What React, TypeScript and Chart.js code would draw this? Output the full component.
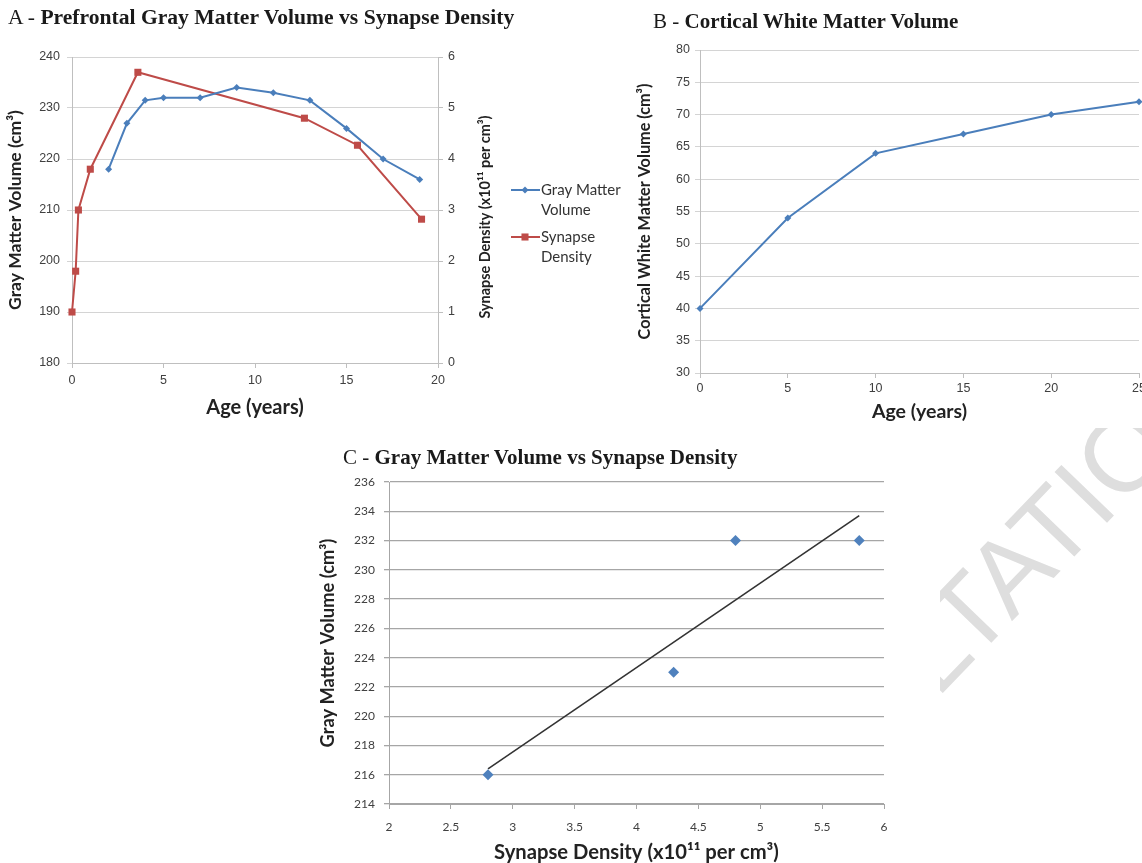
import React, { useEffect, useRef } from "react";
import { Chart, registerables } from "chart.js";

Chart.register(...registerables);

// ---------- Panel A data ----------
const ageGray = [2, 3, 4, 5, 7, 9, 11, 13, 15, 17, 19];
const grayVolume = [218, 227, 231.5, 232, 232, 234, 233, 231.5, 226, 220, 216];
const ageSynapse = [0, 0.2, 0.35, 1, 3.6, 12.7, 15.6, 19.1];
const synapseDensity = [1.0, 1.8, 3.0, 3.8, 5.7, 4.8, 4.27, 2.82];
const ageTicksA = [0, 5, 10, 15, 20];
const grayTicksA = [180, 190, 200, 210, 220, 230, 240];
const synapseTicksA = [0, 1, 2, 3, 4, 5, 6];

// ---------- Panel B data ----------
const ageWhite = [0, 5, 10, 15, 20, 25];
const whiteVolume = [40, 54, 64, 67, 70, 72];
const ageTicksB = [0, 5, 10, 15, 20, 25];
const whiteTicksB = [30, 35, 40, 45, 50, 55, 60, 65, 70, 75, 80];

// ---------- Panel C data ----------
const synapseC = [2.8, 4.3, 4.8, 5.8];
const grayC = [216, 223, 232, 232];
const trendX = [2.8, 5.8];
const trendY = [216.4, 233.7];
const synapseTicksC = [2, 2.5, 3, 3.5, 4, 4.5, 5, 5.5, 6];
const grayTicksC = [214, 216, 218, 220, 222, 224, 226, 228, 230, 232, 234, 236];

// ---------- Text ----------
const TITLE_A = ["A - ", "Prefrontal Gray Matter Volume vs Synapse Density"];
const TITLE_B = ["B - ", "Cortical White Matter Volume"];
const TITLE_C = ["C - ", "Gray Matter Volume vs Synapse Density"];
const LABEL_GRAY = "Gray Matter Volume (cm³)";
const LABEL_SYN = "Synapse Density (x10¹¹ per cm³)";
const LABEL_AGE = "Age (years)";
const LABEL_WHITE = "Cortical White Matter Volume (cm³)";
const LEGEND_GRAY = ["Gray Matter", "Volume"];
const LEGEND_SYN = ["Synapse", "Density"];
const WATERMARK = "CONSULTATION";

// ---------- Styles ----------
const BLUE = "#4a7ebb";
const RED = "#be4b48";
const TICK_COLOR = "#404040";
const SANS = "Liberation Sans, Arial, sans-serif";
const LATO = "Lato, sans-serif";

const pts = (xs: number[], ys: number[]) => xs.map((x, i) => ({ x, y: ys[i] }));
const fixTicks = (values: number[]) => (scale: any) => {
  scale.ticks = values.map((v) => ({ value: v }));
};
const fixWidth = (w: number) => (scale: any) => {
  scale.width = w;
};
const fixHeight = (h: number) => (scale: any) => {
  scale.height = h;
};
const plainLabel = (v: any) => String(v);

function ChartCanvas(props: { left: number; top: number; width: number; height: number; build: () => any }) {
  const ref = useRef<HTMLCanvasElement>(null);
  useEffect(() => {
    const chart = new Chart(ref.current as HTMLCanvasElement, props.build());
    return () => chart.destroy();
  }, []);
  return (
    <canvas
      ref={ref}
      width={props.width}
      height={props.height}
      style={{
        position: "absolute",
        left: props.left,
        top: props.top,
        width: props.width,
        height: props.height,
        background: "#fff",
      }}
    />
  );
}

// Panel A extras: right axis title (reads bottom-to-top) and legend
const panelAPlugin = {
  id: "panelAExtras",
  afterDraw(chart: any) {
    const ctx = chart.ctx;
    const s = chart.scales.y1;
    ctx.save();
    ctx.translate(485, (s.top + s.bottom) / 2 + 7);
    ctx.rotate(-Math.PI / 2);
    ctx.font = `bold 14.4px ${LATO}`;
    ctx.fillStyle = "#222";
    ctx.textAlign = "center";
    ctx.textBaseline = "middle";
    ctx.fillText(LABEL_SYN, 0, 0);
    ctx.restore();

    const items = [
      { ds: chart.data.datasets[0], lines: LEGEND_GRAY, y: 190 },
      { ds: chart.data.datasets[1], lines: LEGEND_SYN, y: 237 },
    ];
    ctx.save();
    ctx.font = `15px ${LATO}`;
    ctx.textBaseline = "middle";
    ctx.textAlign = "left";
    for (const it of items) {
      ctx.strokeStyle = it.ds.borderColor;
      ctx.lineWidth = 2;
      ctx.beginPath();
      ctx.moveTo(511, it.y);
      ctx.lineTo(540, it.y);
      ctx.stroke();
      ctx.fillStyle = it.ds.backgroundColor;
      const r = it.ds.pointRadius;
      ctx.beginPath();
      if (it.ds.pointStyle === "rectRot") {
        ctx.moveTo(525 - r, it.y);
        ctx.lineTo(525, it.y - r);
        ctx.lineTo(525 + r, it.y);
        ctx.lineTo(525, it.y + r);
        ctx.closePath();
      } else {
        const h = r * Math.SQRT1_2;
        ctx.rect(525 - h, it.y - h, 2 * h, 2 * h);
      }
      ctx.fill();
      ctx.fillStyle = "#333";
      it.lines.forEach((t: string, i: number) => ctx.fillText(t, 541, it.y + i * 20));
    }
    ctx.restore();
  },
};

function buildA() {
  return {
    type: "line",
    data: {
      datasets: [
        {
          label: LEGEND_GRAY.join(" "),
          data: pts(ageGray, grayVolume),
          yAxisID: "y",
          borderColor: BLUE,
          backgroundColor: BLUE,
          borderWidth: 2,
          pointStyle: "rectRot",
          pointRadius: 3.5,
          pointBorderWidth: 0,
          clip: false,
        },
        {
          label: LEGEND_SYN.join(" "),
          data: pts(ageSynapse, synapseDensity),
          yAxisID: "y1",
          borderColor: RED,
          backgroundColor: RED,
          borderWidth: 2,
          pointStyle: "rect",
          pointRadius: 5,
          pointBorderWidth: 0,
          clip: false,
        },
      ],
    },
    options: {
      animation: false,
      responsive: false,
      layout: { padding: { top: 57, left: 0, right: 127, bottom: 0 }, autoPadding: false },
      plugins: { legend: { display: false }, tooltip: { enabled: false } },
      scales: {
        x: {
          type: "linear",
          min: ageTicksA[0],
          max: ageTicksA[ageTicksA.length - 1],
          afterBuildTicks: fixTicks(ageTicksA),
          afterFit: fixHeight(62),
          grid: { drawOnChartArea: false, tickLength: 5, color: "#bfbfbf" },
          border: { color: "#bfbfbf" },
          ticks: { font: { family: SANS, size: 12.5 }, color: TICK_COLOR, padding: 5, maxRotation: 0, callback: plainLabel },
          title: { display: true, text: LABEL_AGE, font: { family: LATO, size: 20, weight: "bold" }, color: "#222", padding: { top: 0, bottom: 5 } },
        },
        y: {
          position: "left",
          min: grayTicksA[0],
          max: grayTicksA[grayTicksA.length - 1],
          afterBuildTicks: fixTicks(grayTicksA),
          afterFit: fixWidth(72),
          grid: { color: "#d4d4d4", tickLength: 5 },
          border: { color: "#bfbfbf" },
          ticks: { font: { family: SANS, size: 12.5 }, color: TICK_COLOR, padding: 7, callback: plainLabel },
          title: { display: true, text: LABEL_GRAY, font: { family: LATO, size: 17.5, weight: "bold" }, color: "#222", padding: { top: 4.5, bottom: 0 } },
        },
        y1: {
          position: "right",
          min: synapseTicksA[0],
          max: synapseTicksA[synapseTicksA.length - 1],
          afterBuildTicks: fixTicks(synapseTicksA),
          afterFit: fixWidth(67),
          grid: { drawOnChartArea: false, tickLength: 5, color: "#bfbfbf" },
          border: { color: "#bfbfbf" },
          ticks: { font: { family: SANS, size: 12.5 }, color: TICK_COLOR, padding: 5, callback: plainLabel },
        },
      },
    },
    plugins: [panelAPlugin],
  };
}

function buildB() {
  return {
    type: "line",
    data: {
      datasets: [
        {
          label: LABEL_WHITE,
          data: pts(ageWhite, whiteVolume),
          borderColor: BLUE,
          backgroundColor: BLUE,
          borderWidth: 2,
          pointStyle: "rectRot",
          pointRadius: 3.5,
          pointBorderWidth: 0,
          clip: false,
        },
      ],
    },
    options: {
      animation: false,
      responsive: false,
      layout: { padding: { top: 50, left: 0, right: 26, bottom: 0 }, autoPadding: false },
      plugins: { legend: { display: false }, tooltip: { enabled: false } },
      scales: {
        x: {
          type: "linear",
          min: ageTicksB[0],
          max: ageTicksB[ageTicksB.length - 1],
          afterBuildTicks: fixTicks(ageTicksB),
          afterFit: fixHeight(55),
          grid: { drawOnChartArea: false, tickLength: 5, color: "#bfbfbf" },
          border: { color: "#bfbfbf" },
          ticks: { font: { family: SANS, size: 12.5 }, color: TICK_COLOR, padding: 3, maxRotation: 0, callback: plainLabel },
          title: { display: true, text: LABEL_AGE, font: { family: LATO, size: 19.5, weight: "bold" }, color: "#222", padding: { top: 0, bottom: 4.3 } },
        },
        y: {
          min: whiteTicksB[0],
          max: whiteTicksB[whiteTicksB.length - 1],
          afterBuildTicks: fixTicks(whiteTicksB),
          afterFit: fixWidth(68),
          grid: { color: "#d4d4d4", tickLength: 5 },
          border: { color: "#bfbfbf" },
          ticks: { font: { family: SANS, size: 12.5 }, color: TICK_COLOR, padding: 5, callback: plainLabel },
          title: { display: true, text: LABEL_WHITE, font: { family: LATO, size: 16.2, weight: "bold" }, color: "#222", padding: { top: 3.3, bottom: 0 } },
        },
      },
    },
  };
}

function buildC() {
  return {
    type: "scatter",
    data: {
      datasets: [
        {
          label: "Gray Matter Volume",
          data: pts(synapseC, grayC),
          borderColor: "#4f81bd",
          backgroundColor: "#4f81bd",
          pointStyle: "rectRot",
          pointRadius: 5.5,
          pointBorderWidth: 0,
          clip: false,
        },
        {
          label: "Linear trend",
          data: pts(trendX, trendY),
          showLine: true,
          borderColor: "#333",
          borderWidth: 1.6,
          pointRadius: 0,
        },
      ],
    },
    options: {
      animation: false,
      responsive: false,
      layout: { padding: { top: 42, left: 0, right: 56, bottom: 0 }, autoPadding: false },
      plugins: { legend: { display: false }, tooltip: { enabled: false } },
      scales: {
        x: {
          type: "linear",
          min: synapseTicksC[0],
          max: synapseTicksC[synapseTicksC.length - 1],
          afterBuildTicks: fixTicks(synapseTicksC),
          afterFit: fixHeight(66),
          grid: { drawOnChartArea: false, tickLength: 5, color: "#a6a6a6" },
          border: { color: "#a6a6a6" },
          ticks: { font: { family: LATO, size: 12 }, color: TICK_COLOR, padding: 11, maxRotation: 0, callback: plainLabel },
          title: { display: true, text: LABEL_SYN, font: { family: LATO, size: 20.2, weight: "bold" }, color: "#222", padding: { top: 0, bottom: 5.5 } },
        },
        y: {
          min: grayTicksC[0],
          max: grayTicksC[grayTicksC.length - 1],
          afterBuildTicks: fixTicks(grayTicksC),
          afterFit: fixWidth(89),
          grid: { color: "#a6a6a6", tickLength: 5, lineWidth: 1.3 },
          border: { color: "#a6a6a6" },
          ticks: { font: { family: LATO, size: 12 }, color: TICK_COLOR, padding: 9, callback: plainLabel },
          title: { display: true, text: LABEL_GRAY, font: { family: LATO, size: 18.3, weight: "bold" }, color: "#222", padding: { top: 17, bottom: 0 } },
        },
      },
    },
  };
}

function Title(props: { parts: string[]; left: number; top: number; size: number }) {
  return (
    <div
      style={{
        position: "absolute",
        left: props.left,
        top: props.top,
        fontFamily: "Liberation Serif, Times New Roman, serif",
        fontSize: props.size,
        lineHeight: "24px",
        color: "#1a1a1a",
        whiteSpace: "nowrap",
        zIndex: 2,
      }}
    >
      <span style={{ fontWeight: "normal" }}>{props.parts[0]}</span>
      <span style={{ fontWeight: "bold" }}>{props.parts[1]}</span>
    </div>
  );
}

export default function App() {
  return (
    <div
      style={{
        position: "absolute",
        left: 0,
        top: 0,
        width: 1142,
        height: 863,
        overflow: "hidden",
        background: "#fff",
      }}
    >
      <div
        style={{
          position: "absolute",
          left: 606,
          top: 912,
          fontFamily: SANS,
          fontSize: 106,
          lineHeight: 1,
          color: "#dedede",
          whiteSpace: "nowrap",
          transform: "rotate(-46deg)",
          transformOrigin: "0 0",
        }}
      >
        {WATERMARK}
      </div>
      <ChartCanvas left={0} top={0} width={632} height={425} build={buildA} />
      <ChartCanvas left={632} top={0} width={533} height={428} build={buildB} />
      <ChartCanvas left={300} top={440} width={640} height={430} build={buildC} />
      <Title parts={TITLE_A} left={8} top={5} size={21.6} />
      <Title parts={TITLE_B} left={653} top={9} size={21} />
      <Title parts={TITLE_C} left={343} top={445} size={21} />
    </div>
  );
}
